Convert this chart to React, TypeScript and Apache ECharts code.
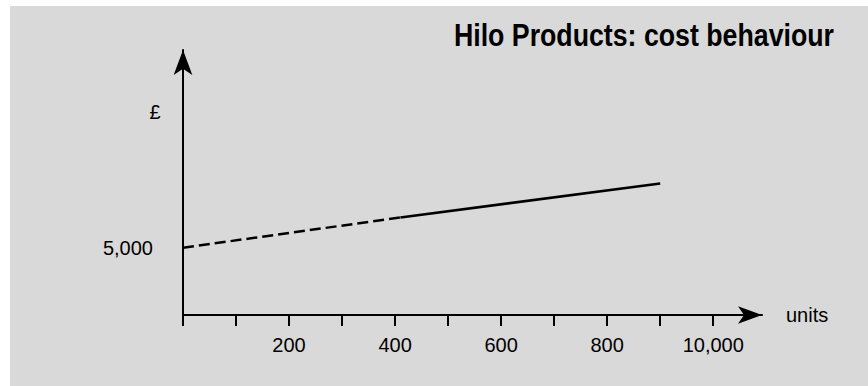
import React, { useEffect, useRef } from "react";
import * as echarts from "echarts";

const titleText = "Hilo Products: cost behaviour";
const xAxisName = "units";
const yAxisName = "£";
const xMin = 0;
const xMax = 1092;
const yMin = 0;
const yMax = 19700;
const xTickValues = [0, 100, 200, 300, 400, 500, 600, 700, 800, 900, 1000];
const xLabelValues = [200, 400, 600, 800, 1000];
const xLabelTexts = ["200", "400", "600", "800", "10,000"];
const yLabelValues = [5000];
const yLabelTexts = ["5,000"];
// estimated portion (dashed) and observed range (solid)
const estimatedUnits = [0, 410];
const estimatedCost = [5000, 7250];
const observedUnits = [410, 900];
const observedCost = [7250, 9780];

const FONT = "'Liberation Sans', Arial, Helvetica, sans-serif";

export default function App() {
  const ref = useRef<HTMLDivElement>(null);
  useEffect(() => {
    if (!ref.current) return;
    const chart = echarts.init(ref.current, null, { renderer: "svg" });
    const toPairs = (xs: number[], ys: number[]) => xs.map((x, i) => [x, ys[i]]);
    chart.setOption({
      animation: false,
      backgroundColor: "#d9d9d9",
      grid: { left: 173, right: 106, top: 44, bottom: 71, containLabel: false },
      xAxis: {
        type: "value",
        min: xMin,
        max: xMax,
        name: xAxisName,
        nameLocation: "end",
        nameGap: 24,
        nameTextStyle: { fontFamily: FONT, fontSize: 20, color: "#000", align: "left" },
        splitLine: { show: false },
        axisLine: {
          show: true,
          onZero: false,
          symbol: ["none", "arrow"],
          symbolSize: [13, 24],
          lineStyle: { color: "#000", width: 2 },
        },
        axisTick: {
          show: true,
          inside: false,
          length: 11,
          customValues: xTickValues,
          lineStyle: { color: "#000", width: 2 },
        },
        axisLabel: {
          show: true,
          margin: 20,
          customValues: xLabelValues,
          fontFamily: FONT,
          fontSize: 20,
          color: "#000",
          formatter: (v: number) => {
            const i = xLabelValues.indexOf(v);
            return i >= 0 ? xLabelTexts[i] : "";
          },
        },
      },
      yAxis: {
        type: "value",
        min: yMin,
        max: yMax,
        splitLine: { show: false },
        axisLine: {
          show: true,
          onZero: false,
          symbol: ["none", "arrow"],
          symbolSize: [14, 25],
          lineStyle: { color: "#000", width: 2 },
        },
        axisTick: { show: false },
        axisLabel: {
          show: true,
          margin: 30,
          customValues: yLabelValues,
          fontFamily: FONT,
          fontSize: 20,
          color: "#000",
          formatter: (v: number) => {
            const i = yLabelValues.indexOf(v);
            return i >= 0 ? yLabelTexts[i] : "";
          },
        },
      },
      graphic: [
        {
          type: "text",
          x: 824,
          y: 29.5,
          scaleX: 0.862,
          style: {
            text: titleText,
            fontFamily: FONT,
            fontWeight: "bold",
            fontSize: 31,
            fill: "#000",
            align: "right",
            verticalAlign: "middle",
          },
        },
        {
          type: "text",
          x: 145,
          y: 106,
          style: {
            text: yAxisName,
            fontFamily: FONT,
            fontSize: 20,
            fill: "#000",
            align: "center",
            verticalAlign: "middle",
          },
        },
      ],
      series: [
        {
          type: "line",
          data: toPairs(estimatedUnits, estimatedCost),
          showSymbol: false,
          symbol: "none",
          lineStyle: { color: "#000", width: 2.5, type: [11, 5] },
          z: 3,
        },
        {
          type: "line",
          data: toPairs(observedUnits, observedCost),
          showSymbol: false,
          symbol: "none",
          lineStyle: { color: "#000", width: 2.5, type: "solid" },
          z: 3,
        },
      ],
    });
    return () => chart.dispose();
  }, []);
  return (
    <div
      ref={ref}
      style={{ position: "absolute", left: 10, top: 6, width: 858, height: 380 }}
    />
  );
}
